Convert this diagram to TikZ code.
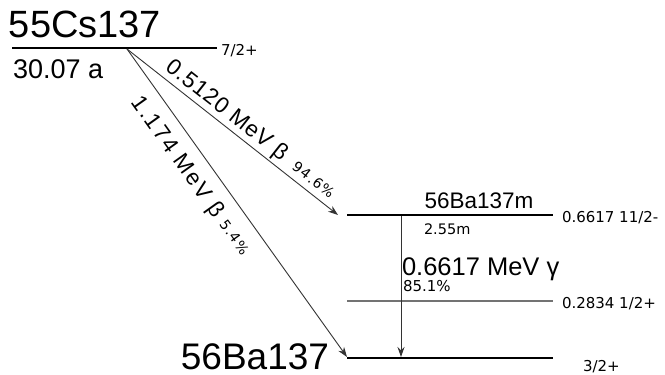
\documentclass[tikz,border=0pt]{standalone}
\usepackage{fontspec}
\setmainfont{Liberation Sans}
\newfontfamily\arrowfont[LetterSpace=4]{Liberation Sans}
\newfontfamily\arrowfontwide[LetterSpace=8]{Liberation Sans}
\newfontfamily\smallfont{DejaVu Sans}
\newfontfamily\pctfont[LetterSpace=8]{DejaVu Sans}
\usetikzlibrary{arrows.meta,calc}
\newcommand{\fsz}[1]{\fontsize{#1}{#1}\selectfont}
\begin{document}
\begin{tikzpicture}[x=1pt,y=1pt,
  level/.style={line width=2.4pt},
  sublevel/.style={draw=black!55,line width=1.1pt},
  trans/.style={draw=black!80,line width=0.9pt,-{Stealth[length=10pt,width=7pt]}},
  every node/.style={inner sep=0pt,outer sep=0pt}]
\useasboundingbox (0,0) rectangle (665,-375);
% levels
\coordinate (csL) at (12,-48);
\coordinate (csR) at (217,-48);
\coordinate (bamL) at (347,-215);
\coordinate (bamR) at (553,-215);
\coordinate (midL) at (347,-301);
\coordinate (midR) at (553,-301);
\coordinate (gsL) at (347,-358);
\coordinate (gsR) at (553,-358);
\draw[level] (csL) -- (csR);
\draw[level] (bamL) -- (bamR);
\draw[sublevel] (midL) -- (midR);
\draw[level] (gsL) -- (gsR);
% names and spins
\node[anchor=base west] (csname) at (9,-37) {\fsz{38}55Cs137};
\node[anchor=base west] (cshalf) at (13,-78) {\fsz{27}30.07 a};
\node[anchor=base west] (csspin) at (221,-55) {\smallfont\fsz{15}7/2+};
\node[anchor=base] (bamname) at (479,-208) {\fsz{22.5}56Ba137m};
\node[anchor=base west] (bamhalf) at (424,-234) {\smallfont\fsz{14.5}2.55m};
\node[anchor=base west] (bamspin) at (562,-222) {\smallfont\fsz{15}0.6617 11/2-};
\node[anchor=base west] (midspin) at (562,-308) {\smallfont\fsz{15}0.2834 1/2+};
\node[anchor=base west] (gsspin) at (583,-371) {\smallfont\fsz{15}3/2+};
\node[anchor=base east] (gsname) at (329,-369) {\fsz{37}56Ba137};
% transitions
\coordinate (cs) at (127,-49);
\coordinate (bamin) at (338,-215);
\coordinate (gsin) at (347,-357);
\coordinate (gtop) at (401,-216);
\coordinate (gbot) at (401,-357);
\draw[trans] (cs) -- (bamin);
\draw[trans] (cs) -- (gsin);
\draw[trans] (gtop) -- (gbot);
\node[rotate=-38.2,anchor=base west] (b1) at ($(cs)!42pt!(bamin)!7pt!90:(bamin)$)
  {\arrowfont\fsz{22.5}0.5120 MeV β};
\node[rotate=-38.2,anchor=base west] (b1p) at ($(cs)!203pt!(bamin)!7.5pt!90:(bamin)$)
  {\pctfont\fsz{14}94.6\%};
\node[rotate=-54.5,anchor=base west] (b2) at ($(cs)!46pt!(gsin)!28pt!-90:(gsin)$)
  {\arrowfontwide\fsz{22.5}1.174 MeV β};
\node[rotate=-54.5,anchor=base west] (b2p) at ($(cs)!196pt!(gsin)!27pt!-90:(gsin)$)
  {\pctfont\fsz{14}5.4\%};
\node[anchor=base west] (gname) at (402,-275) {\fsz{25.5}0.6617 MeV γ};
\node[anchor=base west] (gprob) at (403,-291) {\smallfont\fsz{15}85.1\%};
\end{tikzpicture}
\end{document}
